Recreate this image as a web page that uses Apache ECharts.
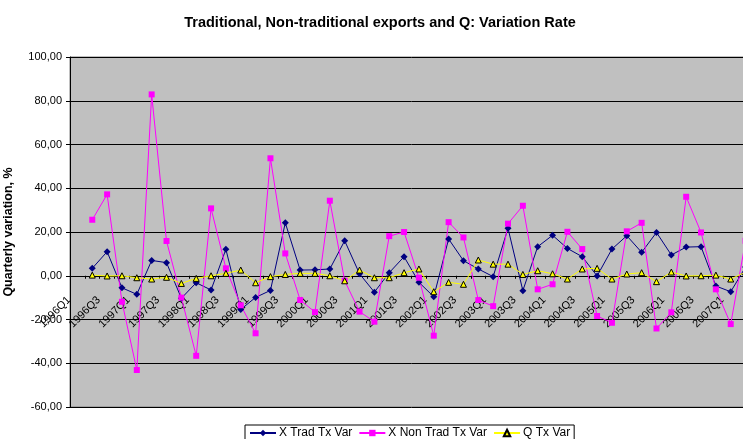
<!DOCTYPE html>
<html>
<head>
<meta charset="utf-8">
<script src="https://cdn.jsdelivr.net/npm/echarts@6/dist/echarts.min.js"></script>
<style>
  html, body { margin: 0; padding: 0; background: #fff; overflow: hidden; }
  #chart { width: 760px; height: 439px; }
</style>
</head>
<body>
<div id="chart"></div>
<script>
// quarters, first one has no variation value
var quarters = [
  "1996Q1", "1996Q2", "1996Q3", "1996Q4", "1997Q1", "1997Q2", "1997Q3", "1997Q4",
  "1998Q1", "1998Q2", "1998Q3", "1998Q4", "1999Q1", "1999Q2", "1999Q3", "1999Q4",
  "2000Q1", "2000Q2", "2000Q3", "2000Q4", "2001Q1", "2001Q2", "2001Q3", "2001Q4",
  "2002Q1", "2002Q2", "2002Q3", "2002Q4", "2003Q1", "2003Q2", "2003Q3", "2003Q4",
  "2004Q1", "2004Q2", "2004Q3", "2004Q4", "2005Q1", "2005Q2", "2005Q3", "2005Q4",
  "2006Q1", "2006Q2", "2006Q3", "2006Q4", "2007Q1", "2007Q2"
];

var tradVar = [
  null, 3.4, 11.0, -5.5, -8.5, 7.0, 6.0, -10.3, -3.2, -6.5, 12.1, -15.4,
  -9.9, -6.7, 24.2, 2.6, 2.7, 3.1, 16.0, 0.9, -7.5, 1.4, 8.7, -3.0,
  -9.6, 16.8, 6.9, 3.1, -0.4, 21.7, -6.8, 13.3, 18.5, 12.5, 8.7, -0.1,
  12.2, 18.3, 10.7, 19.8, 9.5, 13.1, 13.3, -4.7, -7.3, 4.0
];

var nonTradVar = [
  null, 25.6, 37.2, -11.9, -43.1, 82.9, 15.9, -10.0, -36.6, 30.8, 3.4, -13.5,
  -26.3, 53.7, 10.2, -11.1, -16.6, 34.3, -2.3, -16.4, -21.0, 18.1, 20.0, -0.9,
  -27.4, 24.5, 17.5, -11.1, -13.9, 23.8, 32.0, -6.2, -3.9, 20.1, 12.2, -18.4,
  -21.5, 20.3, 24.2, -24.1, -16.7, 36.1, 19.8, -6.2, -22.1, 16.0
];

var qVar = [
  null, 0.3, -0.1, 0.0, -0.9, -1.5, -0.7, -3.5, -1.2, 0.0, 1.1, 2.6,
  -3.2, -0.4, 0.6, 1.1, 1.1, 0.0, -2.3, 2.6, -0.9, -0.9, 1.4, 3.1,
  -7.3, -3.0, -3.9, 7.2, 5.3, 5.3, 0.6, 2.3, 0.9, -1.5, 3.1, 3.4,
  -1.5, 0.8, 1.4, -2.7, 1.7, -0.1, 0.0, 0.3, -1.5, 1.7
];

var seriesNames = ["X Trad Tx Var", "X Non Trad Tx Var", "Q Tx Var"];

var yMin = -60;
var yMax = 100;

var font = "Liberation Sans, Arial, sans-serif";

var gridTop = 57;
var gridHeight = 350;
// put the category axis where the value axis crosses 0
var zeroOffset = -gridHeight * (0 - yMin) / (yMax - yMin);

var myChart = echarts.init(document.getElementById("chart"));

var option = {
  animation: false,
  title: {
    text: "Traditional, Non-traditional exports and Q: Variation Rate",
    left: "center",
    top: 10,
    textStyle: {
      fontFamily: font,
      fontSize: 14.5,
      fontWeight: "bold",
      color: "#000"
    }
  },
  legend: {
    left: 245,
    top: 425,
    itemWidth: 26,
    itemHeight: 8,
    itemGap: 6,
    padding: [2, 4, 2, 4],
    borderColor: "#000",
    borderWidth: 1,
    backgroundColor: "#fff",
    textStyle: {
      fontFamily: font,
      fontSize: 12,
      color: "#000",
      padding: [0, 0, 0, -2]
    },
    data: seriesNames
  },
  grid: {
    left: 70,
    top: gridTop,
    width: 683,
    height: gridHeight,
    outerBoundsMode: "none",
    containLabel: false,
    show: true,
    backgroundColor: "#c0c0c0",
    borderColor: "#808080",
    borderWidth: 1
  },
  xAxis: {
    type: "category",
    data: quarters,
    boundaryGap: true,
    position: "bottom",
    offset: zeroOffset,
    axisLine: {
      onZero: false,
      lineStyle: { color: "#000", width: 1 }
    },
    axisTick: {
      show: true,
      interval: 0,
      length: 3,
      lineStyle: { color: "#000" }
    },
    axisLabel: {
      interval: 1,
      rotate: 45,
      margin: 14,
      padding: [0, 12, 0, 0],
      fontFamily: font,
      fontSize: 11,
      color: "#000"
    },
    splitLine: { show: false }
  },
  yAxis: {
    type: "value",
    min: yMin,
    max: yMax,
    interval: 20,
    name: "Quarterly variation, %",
    nameLocation: "middle",
    nameRotate: 90,
    nameGap: 55,
    nameTextStyle: {
      fontFamily: font,
      fontSize: 12.5,
      fontWeight: "bold",
      color: "#000"
    },
    axisLine: {
      show: true,
      lineStyle: { color: "#000", width: 1 }
    },
    axisTick: {
      show: true,
      length: 4,
      lineStyle: { color: "#000" }
    },
    axisLabel: {
      margin: 8,
      fontFamily: font,
      fontSize: 11,
      color: "#000",
      formatter: function (v) {
        return v.toFixed(2).replace(".", ",");
      }
    },
    splitLine: {
      show: true,
      lineStyle: { color: "#000", width: 1 }
    }
  },
  series: [
    {
      name: seriesNames[0],
      type: "line",
      data: tradVar,
      symbol: "diamond",
      symbolSize: 7,
      lineStyle: { color: "#000080", width: 1 },
      itemStyle: { color: "#000080" }
    },
    {
      name: seriesNames[1],
      type: "line",
      data: nonTradVar,
      symbol: "rect",
      symbolSize: 6,
      lineStyle: { color: "#ff00ff", width: 1 },
      itemStyle: { color: "#ff00ff" }
    },
    {
      name: seriesNames[2],
      type: "line",
      data: qVar,
      symbol: "triangle",
      symbolSize: 6,
      lineStyle: { color: "#ffff00", width: 1 },
      itemStyle: { color: "#ffff00", borderColor: "#000", borderWidth: 1 }
    }
  ]
};

myChart.setOption(option);
</script>
</body>
</html>
